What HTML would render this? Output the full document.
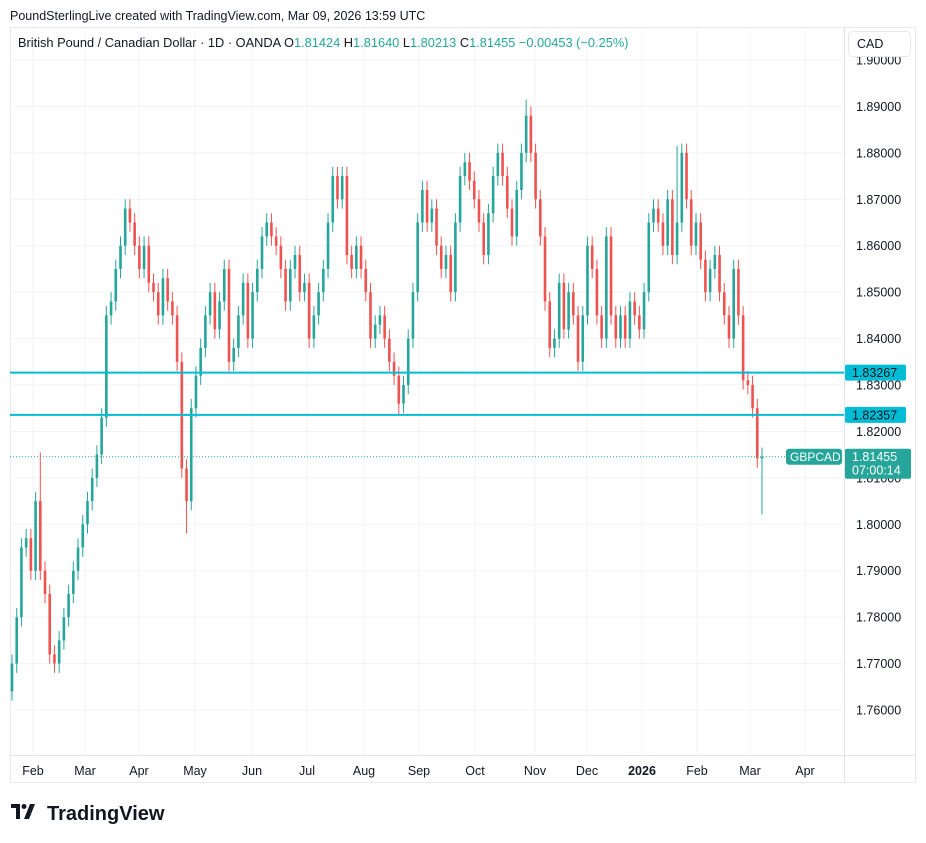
<!DOCTYPE html>
<html><head><meta charset="utf-8">
<style>
body{margin:0;background:#fff;font-family:"Liberation Sans",sans-serif;}
#wrap{position:relative;width:926px;height:843px;overflow:hidden;}
</style></head>
<body>
<div id="wrap">
<svg id="chart" width="926" height="843" xmlns="http://www.w3.org/2000/svg"></svg>
</div>
<script>
const closes=[1.770,1.780,1.795,1.797,1.790,1.805,1.790,1.785,1.772,1.770,1.775,1.780,1.785,1.790,1.795,1.800,1.805,1.810,1.815,1.823,1.845,1.848,1.855,1.860,1.868,1.865,1.860,1.855,1.860,1.852,1.850,1.845,1.853,1.848,1.845,1.835,1.812,1.805,1.825,1.832,1.838,1.845,1.850,1.842,1.848,1.855,1.835,1.838,1.845,1.852,1.840,1.850,1.855,1.862,1.865,1.862,1.860,1.855,1.848,1.855,1.858,1.850,1.852,1.840,1.845,1.850,1.855,1.865,1.875,1.870,1.875,1.858,1.855,1.860,1.855,1.850,1.840,1.843,1.845,1.840,1.835,1.832,1.826,1.830,1.840,1.850,1.865,1.872,1.865,1.868,1.860,1.855,1.858,1.850,1.865,1.875,1.878,1.874,1.870,1.865,1.858,1.867,1.875,1.880,1.875,1.868,1.862,1.872,1.880,1.888,1.880,1.870,1.862,1.848,1.838,1.840,1.852,1.842,1.850,1.845,1.835,1.845,1.860,1.855,1.845,1.840,1.862,1.845,1.840,1.845,1.840,1.848,1.845,1.842,1.850,1.865,1.868,1.865,1.860,1.870,1.858,1.865,1.880,1.870,1.860,1.865,1.857,1.850,1.855,1.858,1.850,1.845,1.840,1.855,1.845,1.831,1.830,1.825,1.8142,1.81455];
const spikeHighIdx=[6,109,141];
const spikeHighVal=[1.8155,1.8915,1.8815];
const spikeLowIdx=[37,82,-1];
const spikeLowVal=[1.798,1.8235,1.80213];
const priceTicks=[1.90,1.89,1.88,1.87,1.86,1.85,1.84,1.83,1.82,1.81,1.80,1.79,1.78,1.77,1.76];
const monthLabels=["Feb","Mar","Apr","May","Jun","Jul","Aug","Sep","Oct","Nov","Dec","2026","Feb","Mar","Apr"];
const monthPos=[33,85,139,195,252,307,364,419,475,535,587,642,697,750,805];
const levels=[1.83267,1.82357];
const lastPrice=1.81455;

const svg=document.getElementById('chart');
const NS="http://www.w3.org/2000/svg";
function y(p){return 60+(1.90-p)*4643;}
const x0=12,x1=762;
function x(i){return x0+i*(x1-x0)/(closes.length-1);}
function el(t,a,parent){const e=document.createElementNS(NS,t);for(const k in a)e.setAttribute(k,a[k]);(parent||svg).appendChild(e);return e;}
function txt(s,a,parent){const e=el('text',a,parent);e.textContent=s;return e;}
function findSpike(idxArr,i){for(let k=0;k<idxArr.length;k++){const v=idxArr[k]<0?closes.length+idxArr[k]:idxArr[k];if(v===i)return k;}return -1;}

let h=txt("PoundSterlingLive created with TradingView.com, Mar 09, 2026 13:59 UTC",{x:10,y:20,'font-size':12.5,fill:'#131722'});


let fr=el('rect',{x:10.5,y:27.5,width:905,height:755,fill:'none',stroke:'#e6e8ec'});


for(const p of priceTicks){
  let g=el('line',{x1:10,x2:844,y1:y(p),y2:y(p),stroke:'#f2f3f5'});
  
  
}
for(const m of monthPos){
  let g=el('line',{x1:m,x2:m,y1:28,y2:755,stroke:'#f2f3f5'});
  
  
}
el('line',{x1:844.5,x2:844.5,y1:28,y2:782,stroke:'#e0e3eb'});
el('line',{x1:10,x2:915,y1:755.5,y2:755.5,stroke:'#e0e3eb'});
for(const p of priceTicks){
  let t=txt(p.toFixed(5),{x:856,y:y(p)+4.5,'font-size':12.5,fill:'#131722'});
  
  
}
monthLabels.forEach((m,i)=>{
  let t=txt(m,{x:monthPos[i],y:775,'font-size':12.5,fill:'#131722','text-anchor':'middle','font-weight':m==='2026'?'bold':'normal'});
  
  
});
const bw=2.6;
closes.forEach((c,i)=>{
  const o=i===0?1.764:closes[i-1];
  const up=c>=o;
  const col=up?'#26a69a':'#ef5350';
  let hi=Math.max(o,c)+0.002, lo=Math.min(o,c)-0.002;
  const hk=findSpike(spikeHighIdx,i); if(hk>=0) hi=spikeHighVal[hk];
  const lk=findSpike(spikeLowIdx,i); if(lk>=0) lo=spikeLowVal[lk];
  const g=el('g',{});
  
  
  el('line',{x1:x(i),x2:x(i),y1:y(hi),y2:y(lo),stroke:col,'stroke-width':1},g);
  const top=y(Math.max(o,c)),bot=y(Math.min(o,c));
  el('rect',{x:x(i)-bw/2,y:top,width:bw,height:Math.max(1,bot-top),fill:col},g);
});
levels.forEach(l=>{
  let ln=el('line',{x1:10,x2:844,y1:y(l),y2:y(l),stroke:'#00bcd4','stroke-width':2});
  
  
  let r=el('rect',{x:845,y:y(l)-8,width:61,height:16,rx:2,fill:'#00bcd4'});
  
  
  txt(l.toFixed(5),{x:852,y:y(l)+4.5,'font-size':12.5,fill:'#131722'});
});
const ly=y(lastPrice);
let dl=el('line',{x1:10,x2:786,y1:ly,y2:ly,stroke:'#26a69a','stroke-dasharray':'1 2'});


let st=el('rect',{x:786,y:ly-8,width:56,height:16,rx:3,fill:'#26a69a'});


txt("GBPCAD",{x:790,y:ly+4.5,'font-size':12,fill:'#fff'});
let lp=el('rect',{x:845,y:ly-8,width:66,height:30,rx:2,fill:'#26a69a'});


txt(lastPrice.toFixed(5),{x:852,y:ly+4.5,'font-size':12.5,fill:'#fff'});
txt("07:00:14",{x:852,y:ly+18,'font-size':12.5,fill:'#fff'});
let lg=el('text',{x:18,y:47,'font-size':12.8,fill:'#131722'});


lg.innerHTML='British Pound / Canadian Dollar · 1D · OANDA  O<tspan fill="#26a69a">1.81424</tspan>  H<tspan fill="#26a69a">1.81640</tspan>  L<tspan fill="#26a69a">1.80213</tspan>  C<tspan fill="#26a69a">1.81455  −0.00453 (−0.25%)</tspan>';
let cb=el('rect',{x:848.5,y:31.5,width:62,height:25,rx:4,fill:'#fff',stroke:'#e6e8ec'});


txt("CAD",{x:857,y:48,'font-size':12.5,fill:'#131722'});
let lo=el('g',{});


el('path',{d:'M11 804h9v15h-4v-11h-5z',fill:'#131722'},lo);
el('circle',{cx:24,cy:806.5,r:2.5,fill:'#131722'},lo);
el('path',{d:'M30 804h5l-6 15h-5z',fill:'#131722'},lo);
txt("TradingView",{x:47,y:820,'font-size':20,'font-weight':'bold',fill:'#131722'},lo);
</script>
</body></html>
